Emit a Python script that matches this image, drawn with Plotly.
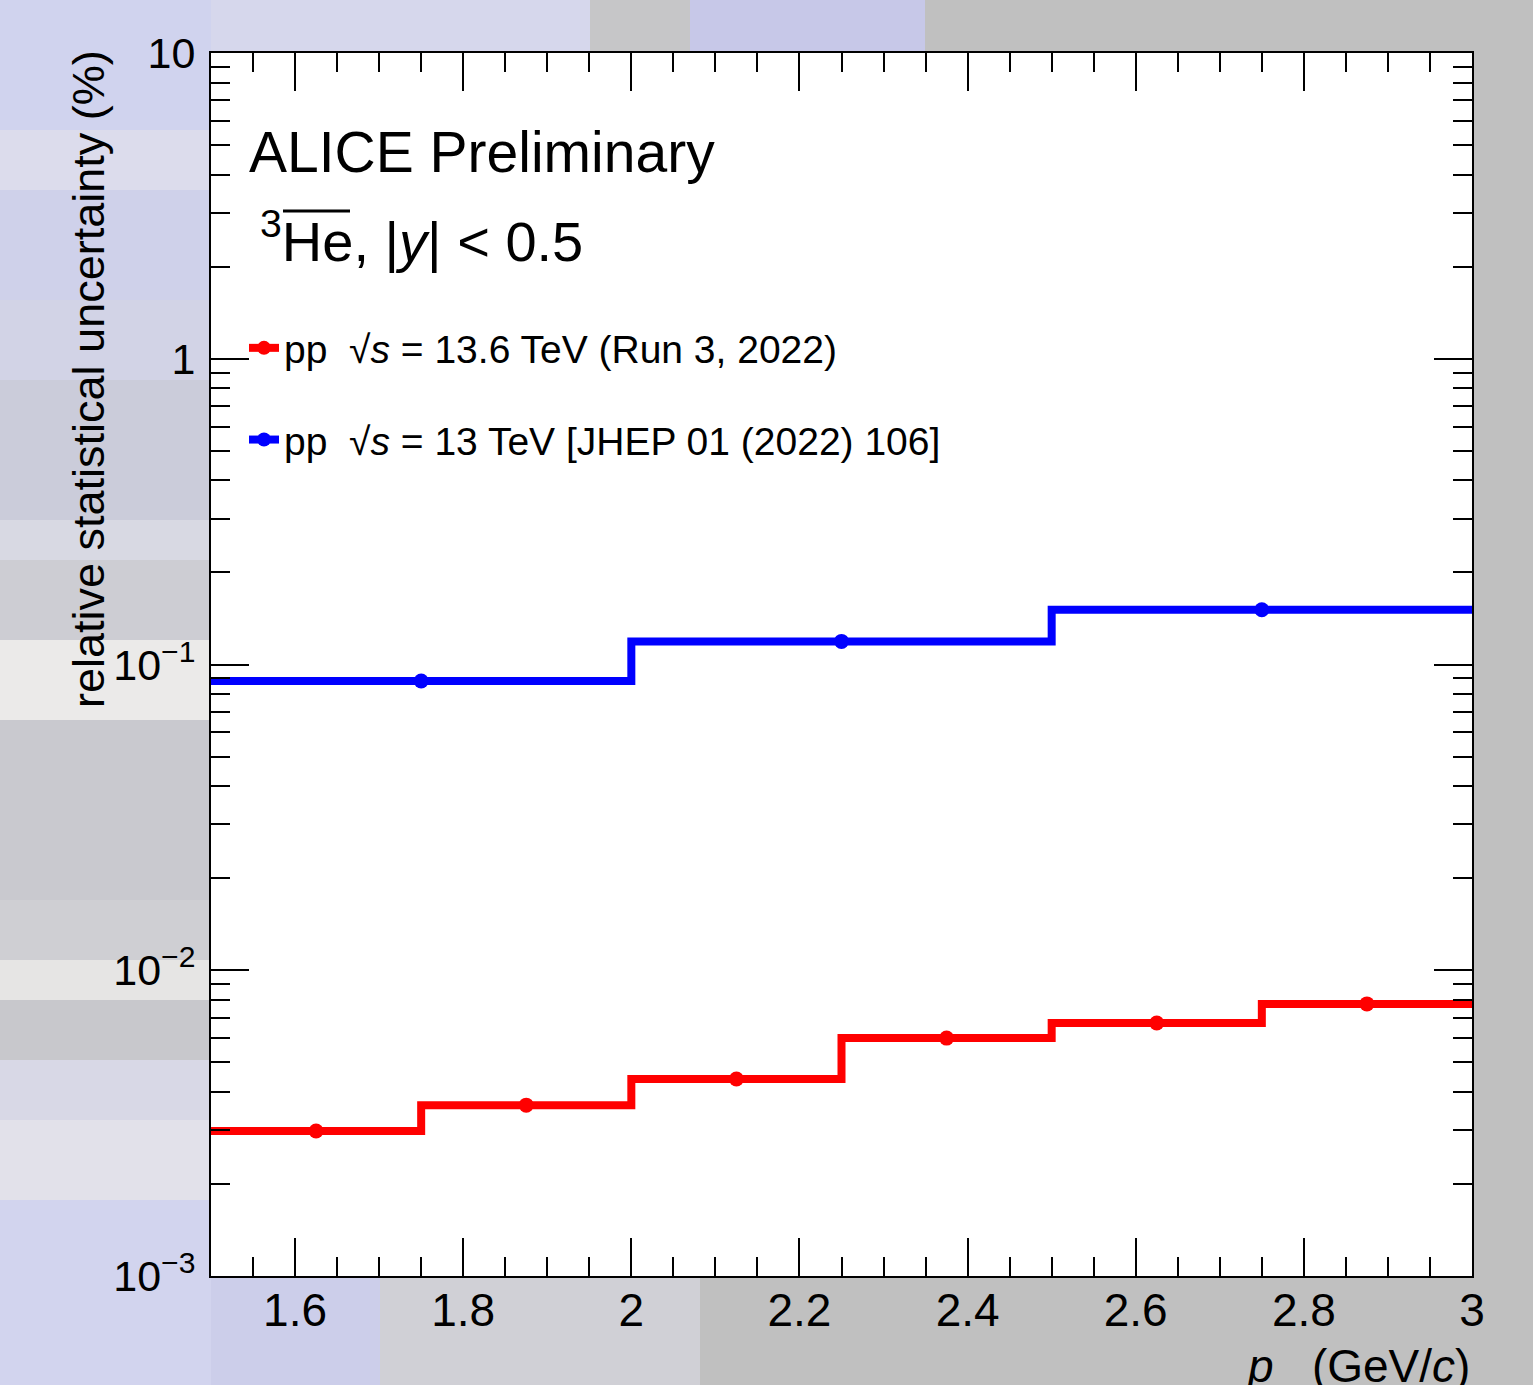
import plotly.graph_objects as go

# Momentum bins (GeV/c) and relative statistical uncertainties (%)
run3_edges = [1.5, 1.75, 2.0, 2.25, 2.5, 2.75, 3.0]
run3_values = [0.00298, 0.00362, 0.00441, 0.0060, 0.00672, 0.00776]
run2_edges = [1.5, 2.0, 2.5, 3.0]
run2_values = [0.0883, 0.119, 0.151]

run3_label = "pp  \u221a<i>s</i> = 13.6 TeV (Run 3, 2022)"
run2_label = "pp  \u221a<i>s</i> = 13 TeV [JHEP 01 (2022) 106]"

y_tickvals = [1e-3, 1e-2, 1e-1, 1, 10]
y_ticktext = ["10<sup>\u22123</sup>", "10<sup>\u22122</sup>", "10<sup>\u22121</sup>", "1", "10"]

RED = "#ff0000"
BLUE = "#0000ff"
FONT = "Liberation Sans, Arial, Helvetica, sans-serif"

W, H = 1533, 1385
ML, MR, MT, MB = 211, 61, 53, 109
PW, PH = W - ML - MR, H - MT - MB


def px_x(px):
    return (px - ML) / PW


def px_y(py):
    return (H - MB - py) / PH


def centers(edges):
    return [(a + b) / 2 for a, b in zip(edges[:-1], edges[1:])]


def step_xy(edges, values):
    return list(edges), list(values) + [values[-1]]


fig = go.Figure()

for edges, values, color, label in [
    (run3_edges, run3_values, RED, run3_label),
    (run2_edges, run2_values, BLUE, run2_label),
]:
    sx, sy = step_xy(edges, values)
    fig.add_trace(go.Scatter(
        x=sx, y=sy, mode="lines", line=dict(color=color, width=8, shape="hv"),
        showlegend=False, hoverinfo="skip",
    ))
    fig.add_trace(go.Scatter(
        x=centers(edges), y=values, mode="markers",
        marker=dict(color=color, size=15), showlegend=False,
    ))
    # legend entry (line + marker)
    fig.add_trace(go.Scatter(
        x=[None], y=[None], mode="lines+markers", name=label,
        line=dict(color=color, width=8), marker=dict(color=color, size=14),
        legendgroup=label,
    ))

# Blurred photographic backdrop, approximated with soft colour bands
bands = [
    # left column
    (0, 0, ML, 130, "#d0d3ee"),
    (0, 130, ML, 190, "#dcdcec"),
    (0, 190, ML, 300, "#cfd1ea"),
    (0, 300, ML, 380, "#d2d3e6"),
    (0, 380, ML, 520, "#cbccda"),
    (0, 520, ML, 560, "#d8d9e3"),
    (0, 560, ML, 640, "#cdcdd3"),
    (0, 640, ML, 720, "#ebeae9"),
    (0, 720, ML, 900, "#c9c9cf"),
    (0, 900, ML, 960, "#cfcfd3"),
    (0, 960, ML, 1000, "#e6e5e4"),
    (0, 1000, ML, 1060, "#c8c8cc"),
    (0, 1060, ML, 1120, "#d8d8e6"),
    (0, 1120, ML, 1200, "#e2e1ea"),
    (0, 1200, ML, H, "#d2d4ee"),
    # top strip
    (ML, 0, 590, MT, "#d6d7ec"),
    (590, 0, 690, MT, "#c6c6c8"),
    (690, 0, 925, MT, "#c7c8e8"),
    # bottom strip
    (ML, H - MB, 380, H, "#ccceea"),
    (380, H - MB, 700, H, "#d0d0d6"),
]
shapes = []
for x0, y0, x1, y1, c in bands:
    shapes.append(dict(
        type="rect", xref="paper", yref="paper", layer="below",
        x0=px_x(x0), x1=px_x(x1), y0=px_y(y1), y1=px_y(y0),
        fillcolor=c, line=dict(width=0),
    ))
# bar over the antiparticle symbol
shapes.append(dict(
    type="line", xref="paper", yref="paper",
    x0=px_x(283), x1=px_x(350), y0=px_y(211), y1=px_y(211),
    line=dict(color="black", width=3),
))

y_minor = [m * 10 ** e for e in range(-3, 1) for m in range(2, 10)]

fig.update_layout(
    width=W, height=H,
    margin=dict(l=ML, r=MR, t=MT, b=MB, pad=0),
    paper_bgcolor="#c0c0c0",
    plot_bgcolor="white",
    font=dict(family=FONT, color="black"),
    shapes=shapes,
    showlegend=True,
    legend=dict(
        x=px_x(244), y=px_y(316), xanchor="left", yanchor="top",
        bgcolor="rgba(0,0,0,0)", font=dict(size=39, family=FONT),
        tracegroupgap=38, itemwidth=30,
    ),
    xaxis=dict(
        range=[1.5, 3.0], tick0=0, dtick=0.2, ticks="inside", ticklen=38,
        tickwidth=2, tickcolor="black", showline=True, linecolor="black",
        linewidth=2, mirror="ticks", showgrid=False, zeroline=False,
        tickfont=dict(size=46), ticklabelstandoff=-7,
        minor=dict(dtick=0.05, ticks="inside", ticklen=19, tickwidth=2,
                   tickcolor="black", showgrid=False),
    ),
    yaxis=dict(
        type="log", range=[-3, 1], tickvals=y_tickvals, ticktext=y_ticktext,
        ticks="inside", ticklen=38, tickwidth=2, tickcolor="black",
        showline=True, linecolor="black", linewidth=2, mirror="ticks",
        showgrid=False, zeroline=False, tickfont=dict(size=43),
        ticklabelstandoff=5,
        minor=dict(tickvals=y_minor, ticks="inside", ticklen=19, tickwidth=2,
                   tickcolor="black", showgrid=False),
    ),
    annotations=[
        dict(text="ALICE Preliminary", xref="paper", yref="paper",
             x=px_x(247), y=px_y(118), xanchor="left", yanchor="top",
             showarrow=False, font=dict(size=57)),
        dict(text="<sup>3</sup>He, |<i>y</i>| &lt; 0.5", xref="paper", yref="paper",
             x=px_x(258), y=px_y(200), xanchor="left", yanchor="top",
             showarrow=False, font=dict(size=56)),
        dict(text="relative statistical uncertainty (%)", xref="paper", yref="paper",
             x=px_x(89), y=px_y(48), xanchor="center", yanchor="top",
             textangle=-90, showarrow=False, font=dict(size=45)),
        dict(text="<i>p</i>   (GeV/<i>c</i>)", xref="paper", yref="paper",
             x=1.0, y=px_y(1338), xanchor="right", yanchor="top",
             showarrow=False, font=dict(size=46)),
    ],
)

fig.write_html("out.html")
